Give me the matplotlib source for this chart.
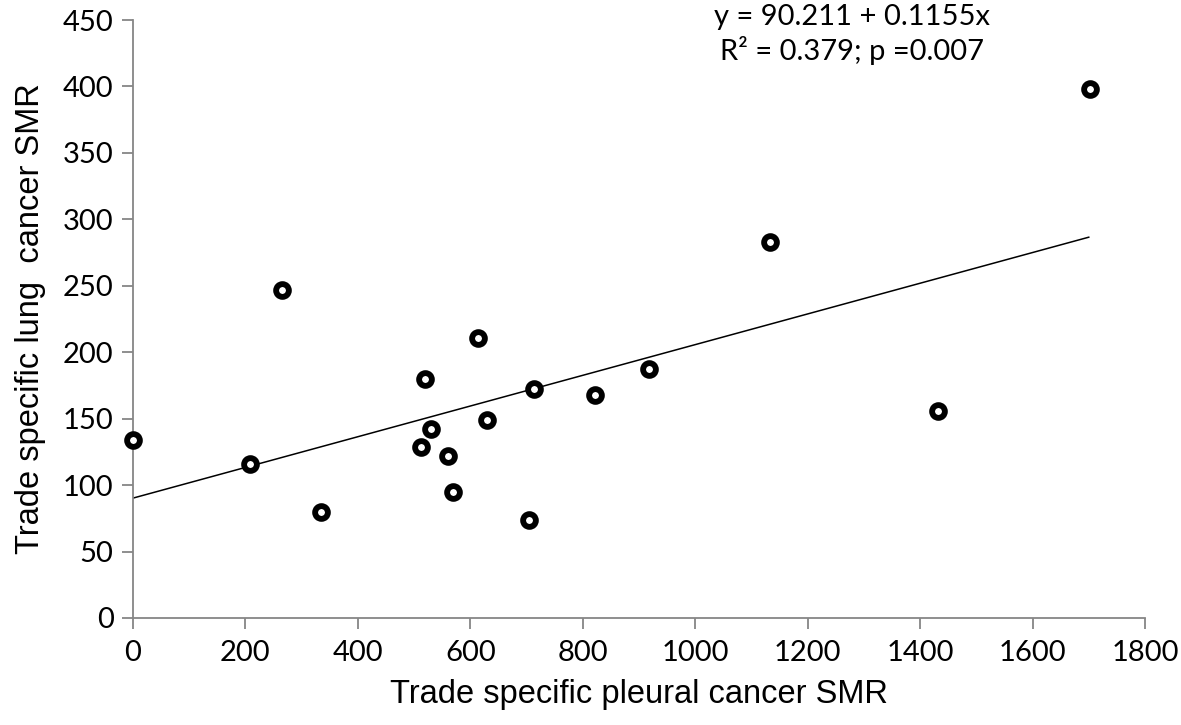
import matplotlib
matplotlib.use('Agg')
import matplotlib.pyplot as plt
import numpy as np

plt.rcParams['font.family'] = ['Lato', 'DejaVu Sans']

# Trade specific SMRs
pleural_smr = [0, 208, 265, 334, 512, 519, 530, 560, 569, 614, 630, 704, 713, 822, 918, 1133, 1432, 1702]
lung_smr = [134, 116, 247, 80, 129, 180, 142, 122, 95, 211, 149, 74, 172, 168, 187, 283, 156, 398]

intercept = 90.211
slope = 0.1155

x_ticks = list(range(0, 1801, 200))
y_ticks = list(range(0, 451, 50))

fig = plt.figure(figsize=(11.81, 7.25), dpi=100)
ax = fig.add_axes([0.1126, 0.1476, 0.8569, 0.8248])

# Fitted regression line
fit_x = np.array([0, 1700])
ax.plot(fit_x, intercept + slope * fit_x, color='black', lw=1.1, zorder=2)

# Data points as black rings
ax.plot(pleural_smr, lung_smr, linestyle='none', marker='o', markersize=9.2,
        markerfacecolor='white', markeredgecolor='black', markeredgewidth=4.2,
        zorder=3, clip_on=False)

ax.set_xlim(0, 1800)
ax.set_ylim(0, 450)
ax.set_xticks(x_ticks)
ax.set_yticks(y_ticks)

for side in ['top', 'right']:
    ax.spines[side].set_visible(False)
for side in ['left', 'bottom']:
    ax.spines[side].set_color('#868686')
    ax.spines[side].set_linewidth(1.3)
ax.tick_params(axis='both', direction='out', length=8, width=1.3, color='#868686',
               labelsize=21, labelcolor='black')
ax.tick_params(axis='x', pad=8)
ax.tick_params(axis='y', pad=6)

label_font = ['Liberation Sans', 'DejaVu Sans']
ax.set_xlabel('Trade specific pleural cancer SMR', fontsize=23.5, family=label_font, labelpad=9)
ax.set_ylabel('Trade specific lung  cancer SMR', fontsize=23.5, family=label_font, labelpad=12)

fig.text(0.7214, 0.953, 'y = 90.211 + 0.1155x\nR² = 0.379; p =0.007', ha='center', va='center',
         fontsize=21, linespacing=1.25)

fig.savefig('out.png', dpi=100)
